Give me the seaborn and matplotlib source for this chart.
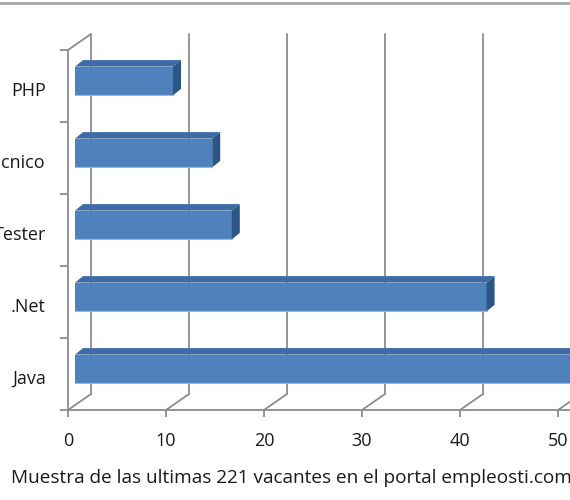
import matplotlib
matplotlib.use("Agg")
import matplotlib.pyplot as plt
from matplotlib.patches import Polygon
from matplotlib.lines import Line2D
from matplotlib import transforms as mtransforms
import seaborn as sns
import pandas as pd
import numpy as np

# ---- data ----
categories = ["PHP", "Técnico", "Tester", ".Net", "Java"]
vacantes = [10, 14, 16, 42, 55]
x_ticks = [0, 10, 20, 30, 40, 50, 60]
x_label = "Muestra de las ultimas 221 vacantes en el portal empleosti.com"

df = pd.DataFrame({"categoria": categories, "vacantes": vacantes})

sns.set_theme(style="white")
plt.rcParams["font.family"] = ["Open Sans", "DejaVu Sans"]

W, H = 570, 500
fig = plt.figure(figsize=(W / 100, H / 100), dpi=100)
ax = fig.add_axes([68 / W, 90 / H, 588 / W, 360 / H])

FRONT = "#4F81BD"
TOP = "#3C6BA5"
SIDE = "#2D5688"
GRID = "#8C8C8C"
TXT = "#1a1a1a"

sns.barplot(data=df, y="categoria", x="vacantes", order=categories, orient="h",
            width=0.4, color=FRONT, saturation=1, linewidth=0, ax=ax, zorder=3)
ax.set_xlim(0, 60)
ax.set_ylim(len(categories) - 0.5, -0.5)
ax.set_ylabel("")


def px(dx, dy):
    """screen pixel offset (right, up) -> data offset"""
    p0 = ax.transData.transform((0, 0))
    q = ax.transData.inverted().transform(p0 + np.array([dx, dy]))
    return q[0], q[1]


y_top, y_bot = -0.5, len(categories) - 0.5
gx, gy = px(23, 16)      # wall depth
fx, fy = px(7, 5)        # front-face offset of bars
bx, by = px(8, 6.5)      # bar depth

# back wall gridlines and floor diagonals
for t in x_ticks:
    ax.plot([t + gx, t + gx], [y_top + gy, y_bot + gy], color=GRID, lw=1.3,
            zorder=1, clip_on=False)
    ax.plot([t, t + gx], [y_bot, y_bot + gy], color=GRID, lw=1.3,
            zorder=1, clip_on=False)
# left wall top diagonal
ax.plot([0, gx], [y_top, y_top + gy], color=GRID, lw=1.3, zorder=1, clip_on=False)

# 3D faces of bars
for p in list(ax.patches):
    x0, y0, w, h = p.get_x(), p.get_y(), p.get_width(), p.get_height()
    xL, xR = x0 + fx, x0 + w + fx
    yT, yB = min(y0, y0 + h) + fy, max(y0, y0 + h) + fy
    p.set_x(x0 + fx)
    p.set_y(y0 + fy)
    p.set_clip_on(False)
    top = Polygon([(xL, yT), (xR, yT), (xR + bx, yT + by), (xL + bx, yT + by)],
                  closed=True, facecolor=TOP, edgecolor="none", zorder=3, clip_on=False)
    side = Polygon([(xR, yT), (xR + bx, yT + by), (xR + bx, yB + by), (xR, yB)],
                   closed=True, facecolor=SIDE, edgecolor="none", zorder=3, clip_on=False)
    ax.add_patch(top)
    ax.add_patch(side)
    ax.plot([xL, xR], [yB, yB], color="#9DB9DD", lw=0.8, zorder=4, clip_on=False)

# spines
for s in ["top", "right"]:
    ax.spines[s].set_visible(False)
for s in ["left", "bottom"]:
    ax.spines[s].set_color(GRID)
    ax.spines[s].set_linewidth(1.3)
    ax.spines[s].set_zorder(2)

# ticks
ax.set_xticks(x_ticks)
ax.set_xticklabels([str(t) for t in x_ticks])
ax.set_yticks(range(len(categories)))
ax.set_yticklabels(categories)
ax.set_yticks(np.arange(-0.5, len(categories), 1.0), minor=True)
ax.tick_params(axis="y", which="major", length=0, pad=16, labelsize=13, labelcolor=TXT)
ax.tick_params(axis="y", which="minor", length=6, width=1.3, color=GRID, left=True)
ax.tick_params(axis="x", which="major", length=5, width=1.3, color=GRID, bottom=True,
               pad=11, labelsize=13, labelcolor=TXT)
shift_down = mtransforms.ScaledTranslation(0, -2.5 / 100, fig.dpi_scale_trans)
for lab in ax.get_yticklabels():
    lab.set_transform(lab.get_transform() + shift_down)

ax.set_xlabel(x_label, fontsize=13.7, color=TXT)
ax.xaxis.label.set_ha("left")
ax.xaxis.label.set_va("center")
ax.xaxis.set_label_coords((11 - 68) / 588, (22 - 90) / 360)

# outer chart frame line at top
fig.add_artist(Line2D([0, 1], [1 - 2.5 / H, 1 - 2.5 / H], transform=fig.transFigure,
                      color="#A6A6A6", lw=2))

fig.savefig("out.png", dpi=100)
